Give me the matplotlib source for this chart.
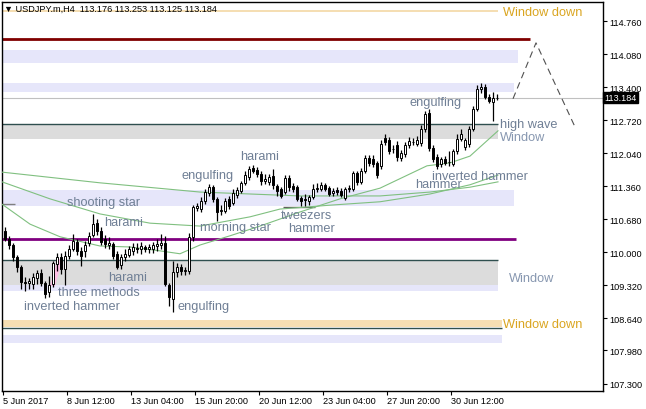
import matplotlib
matplotlib.use("Agg")
import matplotlib.pyplot as plt
import matplotlib.transforms as mtransforms
import numpy as np

plt.rcParams["font.family"] = ["Liberation Sans", "DejaVu Sans"]

# H4 candles, USDJPY.m (bar index 0 = left edge of the chart)
opens = [
    110.44, 110.27, 110.15, 109.90, 109.70, 109.39, 109.37, 109.35,
    109.47, 109.57, 109.37, 109.18, 109.35, 109.76, 109.90, 109.66,
    109.92, 110.07, 110.21, 110.03, 110.03, 110.19, 110.36, 110.60,
    110.44, 110.27, 110.15, 110.17, 109.97, 109.74, 109.90, 109.94,
    110.03, 110.09, 110.07, 110.11, 110.07, 110.07, 110.13, 110.15,
    110.19, 109.33, 109.04, 109.60, 109.70, 109.62, 109.62, 110.32,
    110.91, 110.89, 111.06, 111.22, 111.34, 111.10, 110.85, 110.85,
    111.10, 111.02, 111.18, 111.26, 111.43, 111.55, 111.74, 111.69,
    111.61, 111.47, 111.45, 111.57, 111.37, 111.30, 111.24, 111.53,
    111.37, 111.34, 111.12, 111.08, 111.06, 111.14, 111.30, 111.30,
    111.39, 111.32, 111.22, 111.28, 111.26, 111.12, 111.30, 111.30,
    111.63, 111.45, 111.67, 111.94, 111.92, 111.84, 111.78, 112.35,
    112.31, 112.13, 112.21, 111.94, 112.02, 112.21, 112.27, 112.23,
    112.25, 112.54, 112.87, 112.15, 111.96, 111.82, 111.92, 111.86,
    111.82, 112.09, 112.33, 112.17, 112.23, 112.54, 112.95, 113.36,
    113.40, 113.20, 113.09, 113.176,
]
highs = [
    110.52, 110.34, 110.19, 109.94, 109.74, 109.49, 109.47, 109.57,
    109.64, 109.66, 109.41, 109.51, 109.82, 109.99, 109.99, 110.03,
    110.15, 110.38, 110.27, 110.11, 110.23, 110.42, 110.79, 110.68,
    110.52, 110.36, 110.32, 110.21, 110.03, 109.97, 110.07, 110.13,
    110.19, 110.19, 110.21, 110.15, 110.17, 110.21, 110.27, 110.38,
    110.34, 109.37, 109.82, 109.78, 109.76, 109.70, 110.40, 110.97,
    111.02, 111.14, 111.30, 111.41, 111.39, 111.14, 110.97, 111.12,
    111.16, 111.30, 111.34, 111.47, 111.67, 111.78, 111.80, 111.76,
    111.67, 111.61, 111.61, 111.71, 111.41, 111.34, 111.59, 111.59,
    111.43, 111.39, 111.16, 111.20, 111.18, 111.41, 111.43, 111.45,
    111.43, 111.37, 111.32, 111.34, 111.32, 111.34, 111.39, 111.67,
    111.67, 111.74, 112.00, 112.00, 112.00, 111.88, 112.31, 112.44,
    112.37, 112.21, 112.29, 112.11, 112.27, 112.37, 112.35, 112.39,
    112.62, 112.91, 112.95, 112.21, 112.02, 111.96, 111.98, 112.09,
    112.13, 112.44, 112.54, 112.35, 112.60, 113.01, 113.44, 113.48,
    113.46, 113.26, 113.30, 113.253,
]
lows = [
    110.23, 110.07, 109.82, 109.60, 109.25, 109.20, 109.25, 109.25,
    109.35, 109.31, 109.06, 109.08, 109.29, 109.62, 109.55, 109.33,
    109.86, 110.03, 109.94, 109.72, 109.90, 110.13, 110.32, 110.36,
    110.15, 110.09, 110.07, 109.86, 109.66, 109.66, 109.82, 109.90,
    109.94, 109.99, 109.97, 110.01, 109.99, 109.99, 110.03, 110.07,
    109.31, 108.89, 108.77, 109.49, 109.53, 109.53, 109.55, 110.23,
    110.85, 110.83, 110.99, 111.16, 111.04, 110.64, 110.77, 110.81,
    110.89, 110.97, 111.12, 111.22, 111.39, 111.49, 111.63, 111.55,
    111.39, 111.41, 111.39, 111.30, 111.16, 111.12, 111.20, 111.26,
    111.24, 111.06, 110.95, 110.95, 110.97, 111.10, 111.24, 111.26,
    111.26, 111.16, 111.16, 111.18, 111.14, 111.08, 111.24, 111.26,
    111.39, 111.41, 111.63, 111.78, 111.76, 111.53, 111.71, 112.21,
    112.02, 112.04, 111.88, 111.88, 111.96, 112.15, 112.21, 112.19,
    112.19, 112.48, 112.09, 111.86, 111.71, 111.76, 111.80, 111.78,
    111.78, 112.02, 112.29, 112.11, 112.17, 112.50, 112.91, 113.28,
    113.16, 113.07, 112.70, 113.125,
]
closes = [
    110.27, 110.15, 109.90, 109.70, 109.39, 109.37, 109.41, 109.49,
    109.57, 109.37, 109.14, 109.33, 109.78, 109.90, 109.66, 109.92,
    110.07, 110.23, 110.03, 109.92, 110.15, 110.34, 110.58, 110.44,
    110.21, 110.17, 110.19, 109.92, 109.70, 109.90, 109.97, 110.07,
    110.11, 110.07, 110.13, 110.07, 110.11, 110.15, 110.17, 110.19,
    109.35, 109.08, 109.60, 109.70, 109.62, 109.64, 110.32, 110.93,
    110.95, 111.06, 111.24, 111.34, 111.10, 110.83, 110.87, 111.06,
    110.95, 111.22, 111.28, 111.43, 111.59, 111.71, 111.67, 111.61,
    111.47, 111.51, 111.55, 111.39, 111.26, 111.16, 111.53, 111.34,
    111.30, 111.10, 111.06, 111.10, 111.14, 111.30, 111.32, 111.39,
    111.30, 111.20, 111.26, 111.24, 111.18, 111.30, 111.32, 111.63,
    111.45, 111.67, 111.94, 111.84, 111.82, 111.59, 112.23, 112.27,
    112.09, 112.13, 111.96, 112.04, 112.21, 112.29, 112.27, 112.31,
    112.54, 112.85, 112.15, 111.92, 111.78, 111.92, 111.84, 111.86,
    112.09, 112.33, 112.44, 112.31, 112.54, 112.95, 113.36, 113.40,
    113.20, 113.11, 113.18, 113.184,
]
last_price = 113.184

# moving averages (bar index, price)
ma_fast_x = [-0.75, 6.25, 13.75, 23.75, 31.25, 38.75, 43.75, 48.75, 56.25,
             63.75, 73.75, 83.75, 93.75, 105.5, 111.25, 116.25, 123.25]
ma_fast_y = [110.99, 110.58, 110.32, 110.13, 110.11, 110.03, 109.97, 110.15,
             110.34, 110.54, 110.83, 111.10, 111.32, 111.78, 111.84, 111.98, 112.50]
ma_mid_x = [-0.75, 11.25, 23.75, 36.25, 48.75, 61.25, 68.75, 81.25, 93.75,
            106.25, 116.25, 123.25]
ma_mid_y = [111.45, 111.10, 110.79, 110.60, 110.54, 110.73, 110.89, 110.97,
            111.04, 111.20, 111.39, 111.59]
ma_slow_x = [-0.75, 23.75, 48.75, 73.75, 93.75, 106.25, 116.25, 123.25]
ma_slow_y = [111.65, 111.43, 111.24, 111.16, 111.16, 111.24, 111.34, 111.45]

# support / resistance zones: low, high, right end (bar), kind
zone_low = [113.90, 113.30, 110.95, 109.20, 108.13, 112.33, 109.33, 108.46, 114.94]
zone_high = [114.16, 113.48, 111.28, 109.33, 108.30, 112.64, 109.84, 108.61, 114.98]
zone_end = [128.25, 127.25, 127.25, 123.25, 124.25, 123.25, 123.25, 124.25, 123.25]
zone_kind = ["blue", "blue", "blue", "blue", "blue", "gray", "gray", "tan", "tan"]
zone_colors = {"blue": "#E6E6FA", "gray": "#DCDCDC", "tan": "#F5DEB3"}

level_price = [114.39, 110.27]
level_end = [131.25, 127.75]
level_color = ["#800000", "#800080"]

# projected path (bar, price)
proj_x = [127.0, 132.75, 142.5]
proj_y = [113.16, 114.31, 112.58]

# pattern labels: text, bar, price, colour
labels = [
    ("Window down", 124.5, 114.945, "#DAA520"),
    ("engulfing", 101.25, 113.09, "#6F7F95"),
    ("high wave", 123.75, 112.64, "#6F7F95"),
    ("Window", 123.75, 112.37, "#8797B0"),
    ("harami", 58.75, 111.98, "#6F7F95"),
    ("engulfing", 44.25, 111.59, "#6F7F95"),
    ("inverted hammer", 106.75, 111.57, "#6F7F95"),
    ("hammer", 102.5, 111.41, "#6F7F95"),
    ("shooting star", 15.5, 111.04, "#6F7F95"),
    ("tweezers", 69.0, 110.77, "#6F7F95"),
    ("harami", 24.75, 110.62, "#6F7F95"),
    ("morning star", 48.75, 110.52, "#6F7F95"),
    ("hammer", 70.75, 110.50, "#6F7F95"),
    ("harami", 25.75, 109.49, "#6F7F95"),
    ("Window", 126.0, 109.47, "#8797B0"),
    ("three methods", 13.25, 109.18, "#6F7F95"),
    ("inverted hammer", 4.75, 108.89, "#6F7F95"),
    ("engulfing", 43.25, 108.89, "#6F7F95"),
    ("Window down", 124.5, 108.52, "#DAA520"),
]

price_ticks = [107.300, 107.980, 108.640, 109.320, 110.000, 110.680,
               111.360, 112.040, 112.720, 113.400, 114.080, 114.760]
time_ticks = [-0.5, 15.5, 31.5, 47.5, 63.5, 79.5, 95.5, 111.5]
time_labels = ["5 Jun 2017", "8 Jun 12:00", "13 Jun 04:00", "15 Jun 20:00",
               "20 Jun 12:00", "23 Jun 04:00", "27 Jun 20:00", "30 Jun 12:00"]

fig = plt.figure(figsize=(6.46, 4.10), dpi=100)
ax = fig.add_axes([2 / 646, 1 - 392 / 410, 601 / 646, 389 / 410])
ax.set_xlim(-0.75, 149.5)
ax.set_ylim(107.146, 115.151)

x0 = -0.75
for lo, hi, end, kind in zip(zone_low, zone_high, zone_end, zone_kind):
    ax.fill_between([x0, end], lo, hi, color=zone_colors[kind], lw=0, zorder=1)
# dark edges on gray / tan zones
ax.hlines([112.64, 109.84, 108.44], x0, [123.25, 123.25, 124.25], color="#2F4F4F", lw=1, zorder=2)
ax.hlines(level_price, x0, level_end, colors=level_color, lw=2, zorder=2)
ax.axhline(last_price, color="#C0C0C0", lw=0.8, zorder=2)
ax.hlines(110.99, x0, 2.5, color="#808080", lw=1, zorder=2)
ax.hlines(110.93, 69.5, 77.5, color="#606060", lw=1, zorder=2)

# three methods marker
ax.fill([11.25, 12.5, 14.25, 13.25], [109.31, 109.31, 109.82, 109.88], color="#FFC0E6", lw=0, zorder=2)

ax.plot(ma_slow_x, ma_slow_y, color="#80C080", lw=0.8, zorder=3)
ax.plot(ma_mid_x, ma_mid_y, color="#80C080", lw=0.8, zorder=3)
ax.plot(ma_fast_x, ma_fast_y, color="#80C080", lw=0.8, zorder=3)

o = np.array(opens)
h = np.array(highs)
l = np.array(lows)
c = np.array(closes)
idx = np.arange(len(c))
up = c >= o
ax.vlines(idx, l, h, color="black", lw=0.9, zorder=4)
ax.bar(idx, np.abs(c - o), bottom=np.minimum(o, c), width=0.7,
       color=np.where(up, "white", "black"), edgecolor="black", linewidth=0.7, zorder=5)

ax.plot(proj_x, proj_y, color="#505050", lw=0.8, ls=(0, (6, 4)), zorder=3)

for txt, bx, by, col in labels:
    ax.text(bx, by, txt, color=col, fontsize=9.2, ha="left", va="center", zorder=6)

ax.text(0.003, 0.995, "\u25bc USDJPY.m,H4  113.176 113.253 113.125 113.184",
        transform=ax.transAxes, fontsize=6.6, va="top", ha="left", color="black", zorder=7)

ax.yaxis.tick_right()
ax.set_yticks(price_ticks)
ax.set_yticklabels([f"{p:.3f}" for p in price_ticks])
ax.set_xticks(time_ticks)
ax.set_xticklabels(time_labels, ha="left")
ax.tick_params(axis="both", labelsize=6.6, length=3, width=0.8, pad=1.5, colors="black")
ax.tick_params(axis="x", pad=0.5)
for s in ax.spines.values():
    s.set_color("black")
    s.set_linewidth(1)

trans = mtransforms.blended_transform_factory(ax.transAxes, ax.transData)
ax.text(1.002, last_price, "113.184", transform=trans, fontsize=6.6, color="white",
        ha="left", va="center", zorder=8,
        bbox=dict(boxstyle="square,pad=0.15", fc="black", ec="black"))

fig.savefig("out.png", dpi=100)
